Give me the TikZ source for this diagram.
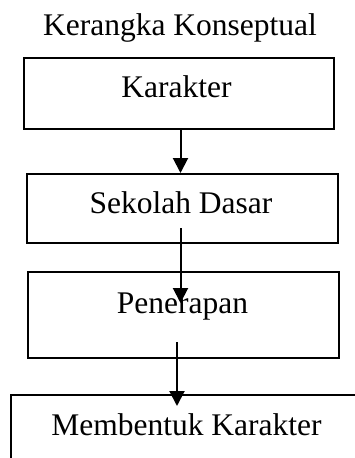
\documentclass[tikz,border=0pt]{standalone}
\usepackage{fontspec}
\setmainfont{Liberation Serif}
\usetikzlibrary{arrows.meta}
\begin{document}
\begin{tikzpicture}[x=1pt,y=-1pt,
  box/.style={draw, line width=2pt, rectangle, inner sep=0pt, anchor=north west},
  lbl/.style={anchor=base, inner sep=0pt, font=\fontsize{31.5}{36}\selectfont},
  flow/.style={line width=2pt, -{Triangle[length=15pt,width=15pt]}}]
\useasboundingbox (0,0) rectangle (355,458);
\clip (0,0) rectangle (355,458);

% boxes
\node[box, minimum width=310pt, minimum height=71pt] (b1) at (23,57) {};
\node[box, minimum width=311pt, minimum height=69pt] (b2) at (26,173) {};
\node[box, minimum width=311pt, minimum height=86pt] (b3) at (27,271) {};
\node[box, minimum width=370pt, minimum height=80pt] (b4) at (10,394) {};

% labels
\node[lbl] (title) at (180,35) {Kerangka Konseptual};
\node[lbl] (t1) at (176.5,97) {Karakter};
\node[lbl] (t2) at (181,213) {Sekolah Dasar};
\node[lbl] (t3) at (182.5,313) {Penerapan};
\node[lbl] (t4) at (186.5,435) {Membentuk Karakter};

% connectors
\coordinate (x1) at (180.5,0);
\coordinate (s2) at (180.5,228);
\coordinate (e2) at (180.5,303);
\coordinate (s3) at (177,342);
\coordinate (e3) at (177,406);
\draw[flow] (b1.south -| x1) -- (b2.north -| x1);
\draw[flow] (s2) -- (e2);
\draw[flow] (s3) -- (e3);
\end{tikzpicture}
\end{document}
